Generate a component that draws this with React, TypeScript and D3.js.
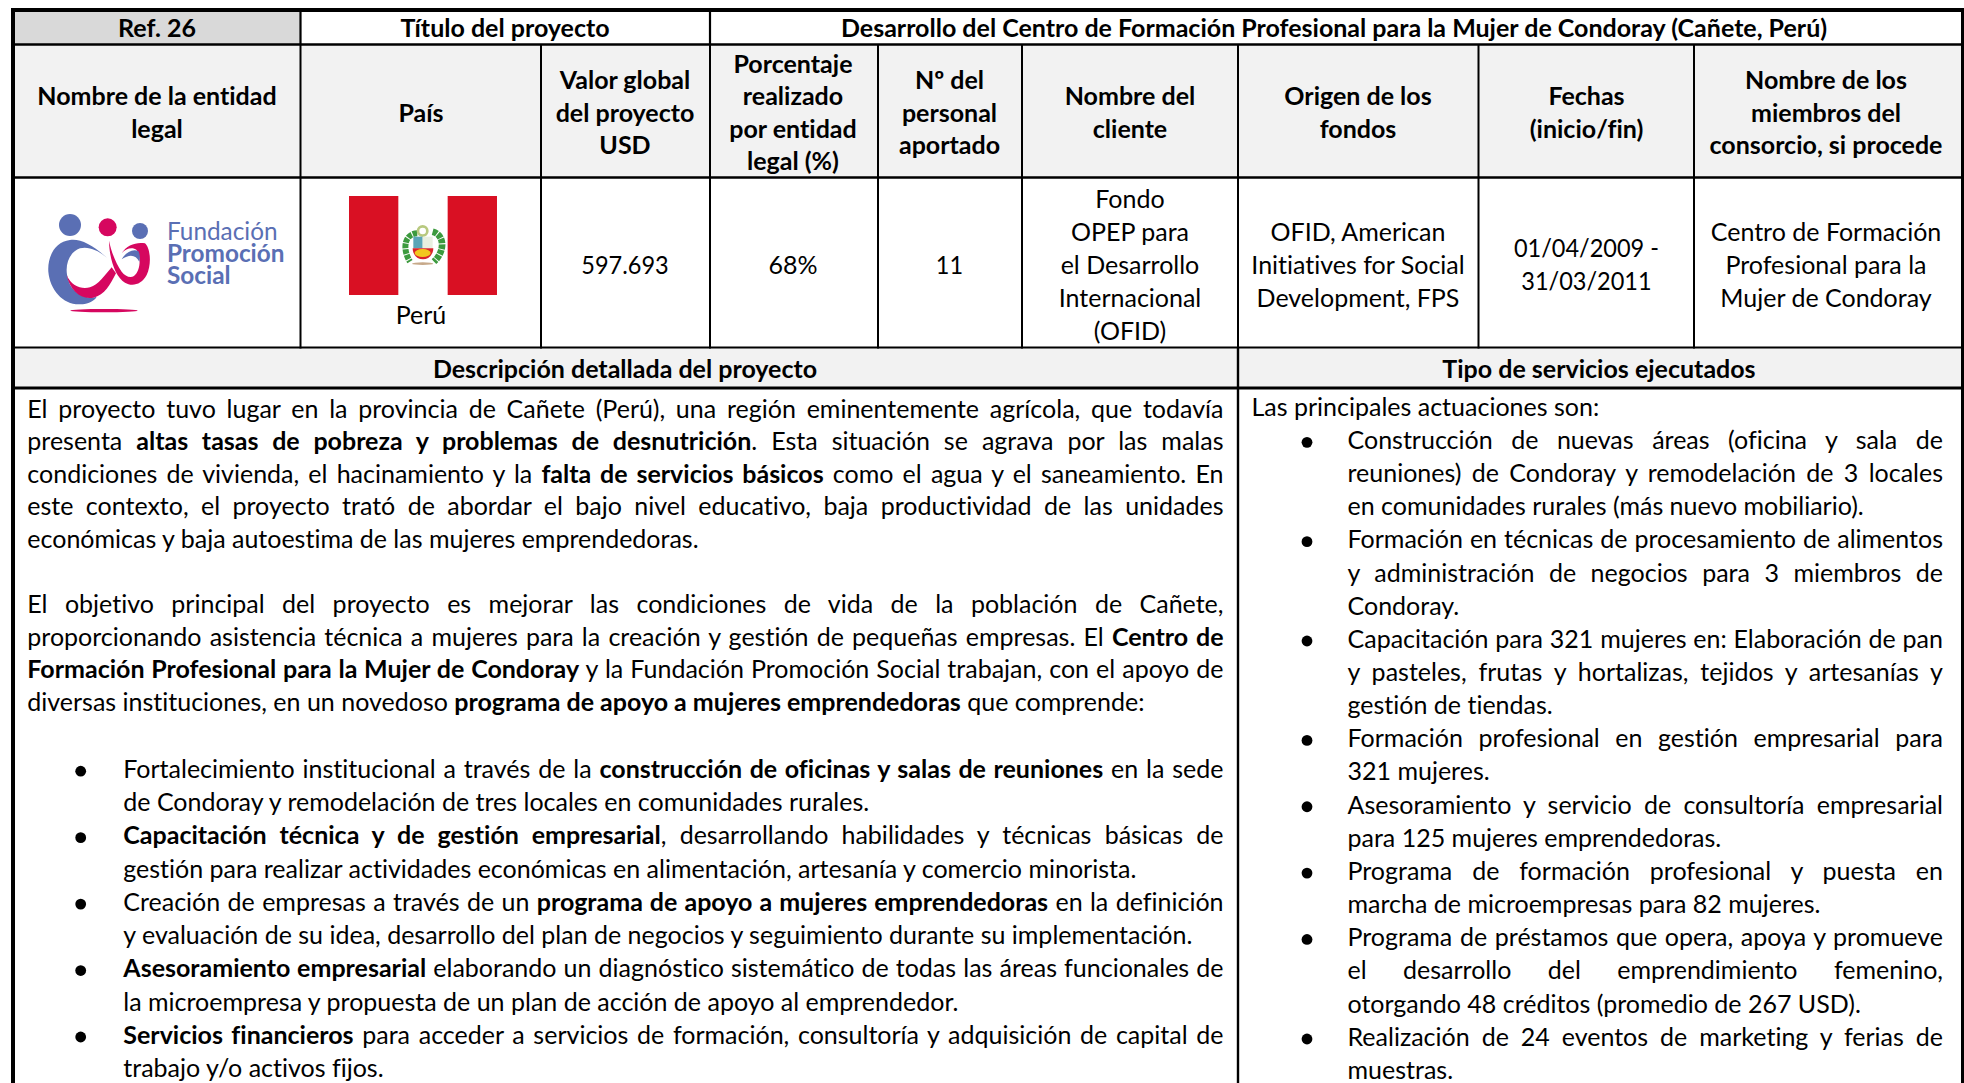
// App.tsx
import React, { useEffect, useRef } from 'react';
import * as d3 from 'd3';

// ---- content ----
const topRow = ['Ref. 26', 'Título del proyecto', 'Desarrollo del Centro de Formación Profesional para la Mujer de Condoray (Cañete, Perú)'];

const headerLabels = [
  ['Nombre de la entidad', 'legal'],
  ['País'],
  ['Valor global', 'del proyecto', 'USD'],
  ['Porcentaje', 'realizado', 'por entidad', 'legal (%)'],
  ['Nº del', 'personal', 'aportado'],
  ['Nombre del', 'cliente'],
  ['Origen de los', 'fondos'],
  ['Fechas', '(inicio/fin)'],
  ['Nombre de los', 'miembros del', 'consorcio, si procede'],
];

const valueLabels = [
  [],
  [],
  ['597.693'],
  ['68%'],
  ['11'],
  ['Fondo', 'OPEP para', 'el Desarrollo', 'Internacional', '(OFID)'],
  ['OFID, American', 'Initiatives for Social', 'Development, FPS'],
  ['01/04/2009 -', '31/03/2011'],
  ['Centro de Formación', 'Profesional para la', 'Mujer de Condoray'],
];

const country = 'Perú';
const logoLines = ['Fundación', 'Promoción', 'Social'];
const sectionTitles = ['Descripción detallada del proyecto', 'Tipo de servicios ejecutados'];

// **...** marks bold runs. Last line of every block is not justified.
const leftBlocks = [
  [
    'El proyecto tuvo lugar en la provincia de Cañete (Perú), una región eminentemente agrícola, que todavía',
    'presenta **altas tasas de pobreza y problemas de desnutrición**. Esta situación se agrava por las malas',
    'condiciones de vivienda, el hacinamiento y la **falta de servicios básicos** como el agua y el saneamiento. En',
    'este contexto, el proyecto trató de abordar el bajo nivel educativo, baja productividad de las unidades',
    'económicas y baja autoestima de las mujeres emprendedoras.',
  ],
  [],
  [
    'El objetivo principal del proyecto es mejorar las condiciones de vida de la población de Cañete,',
    'proporcionando asistencia técnica a mujeres para la creación y gestión de pequeñas empresas. El **Centro de**',
    '**Formación Profesional para la Mujer de Condoray** y la Fundación Promoción Social trabajan, con el apoyo de',
    'diversas instituciones, en un novedoso **programa de apoyo a mujeres emprendedoras** que comprende:',
  ],
  [],
];

const leftBullets = [
  [
    'Fortalecimiento institucional a través de la **construcción de oficinas y salas de reuniones** en la sede',
    'de Condoray y remodelación de tres locales en comunidades rurales.',
  ],
  [
    '**Capacitación técnica y de gestión empresarial**, desarrollando habilidades y técnicas básicas de',
    'gestión para realizar actividades económicas en alimentación, artesanía y comercio minorista.',
  ],
  [
    'Creación de empresas a través de un **programa de apoyo a mujeres emprendedoras** en la definición',
    'y evaluación de su idea, desarrollo del plan de negocios y seguimiento durante su implementación.',
  ],
  [
    '**Asesoramiento empresarial** elaborando un diagnóstico sistemático de todas las áreas funcionales de',
    'la microempresa y propuesta de un plan de acción de apoyo al emprendedor.',
  ],
  [
    '**Servicios financieros** para acceder a servicios de formación, consultoría y adquisición de capital de',
    'trabajo y/o activos fijos.',
  ],
];

const rightIntro = 'Las principales actuaciones son:';

const rightBullets = [
  [
    'Construcción de nuevas áreas (oficina y sala de',
    'reuniones) de Condoray y remodelación de 3 locales',
    'en comunidades rurales (más nuevo mobiliario).',
  ],
  [
    'Formación en técnicas de procesamiento de alimentos',
    'y administración de negocios para 3 miembros de',
    'Condoray.',
  ],
  [
    'Capacitación para 321 mujeres en: Elaboración de pan',
    'y pasteles, frutas y hortalizas, tejidos y artesanías y',
    'gestión de tiendas.',
  ],
  ['Formación profesional en gestión empresarial para', '321 mujeres.'],
  ['Asesoramiento y servicio de consultoría empresarial', 'para 125 mujeres emprendedoras.'],
  ['Programa de formación profesional y puesta en', 'marcha de microempresas para 82 mujeres.'],
  [
    'Programa de préstamos que opera, apoya y promueve',
    'el desarrollo del emprendimiento femenino,',
    'otorgando 48 créditos (promedio de 267 USD).',
  ],
  ['Realización de 24 eventos de marketing y ferias de', 'muestras.'],
];

// ---- layout ----
const FONT = 'Lato, Carlito, Calibri, sans-serif';
const FONT_SIZE = 25;
const colEdges = [13, 300.5, 541, 710, 878, 1022, 1238, 1478.5, 1694, 1962];
const colCentre = [157, 421, 625, 793, 949.5, 1130, 1358, 1586.5, 1826];
const LINE = 33;

// line index -> baseline, the body pitch is not quite even in the source
const leftY = d3.scaleLinear().domain([0, 4, 6, 9, 11, 20]).range([417.8, 548, 613, 711, 778, 1077]);
const rightY = d3.scaleLinear().domain([0, 9, 20]).range([416, 714, 1079]);

const App = () => {
  const ref = useRef<SVGSVGElement>(null);

  useEffect(() => {
    const svg = d3.select(ref.current);
    svg.selectAll('*').remove();

    // cell fills
    const fill = (x0: number, y0: number, x1: number, y1: number, c: string) =>
      svg.append('rect').attr('x', x0).attr('y', y0).attr('width', x1 - x0).attr('height', y1 - y0).attr('fill', c);
    fill(13, 11, colEdges[1], 44, '#d9d9d9');
    fill(13, 45, 1962, 177, '#f2f2f2');
    fill(13, 348, 1962, 387, '#f2f2f2');

    // grid lines
    const rule = (x0: number, y0: number, x1: number, y1: number, w: number) =>
      svg.append('line').attr('x1', x0).attr('y1', y0).attr('x2', x1).attr('y2', y1)
        .attr('stroke', '#000').attr('stroke-width', w);
    rule(11, 10, 1964, 10, 4);
    rule(13, 44.5, 1962, 44.5, 2.5);
    rule(13, 177.5, 1962, 177.5, 2.5);
    rule(13, 347.5, 1962, 347.5, 2);
    rule(13, 388, 1962, 388, 3);
    rule(13, 8, 13, 1083, 4);
    rule(1962.5, 8, 1962.5, 1083, 3);
    [1, 3].forEach(i => rule(colEdges[i], 10, colEdges[i], 45, 2.2));
    colEdges.slice(1, -1).forEach(x => rule(x, 45, x, 348.5, 2));
    rule(colEdges[6], 348, colEdges[6], 1083, 2.4);

    const centred = (label: string, cx: number, y: number, bold = false) => {
      const t = svg.append('text').attr('x', cx).attr('y', y).attr('text-anchor', 'middle')
        .attr('font-family', FONT).attr('font-size', FONT_SIZE)
        .attr('font-weight', bold ? 700 : 400).attr('fill', '#000').text(label);
      // Lato's digits run wider than the source font
      if (/^[\d./ -]+$/.test(label)) {
        const w = (t.node() as SVGTextElement).getComputedTextLength();
        t.attr('textLength', w * 0.94).attr('lengthAdjust', 'spacingAndGlyphs');
      }
      return t;
    };

    // top row
    centred(topRow[0], 157, 37, true);
    centred(topRow[1], 505, 37, true);
    centred(topRow[2], 1334, 37, true);

    // header + value rows, vertically centred in their rows
    const headerMid = 121.5;
    headerLabels.forEach((lines, i) => {
      lines.forEach((l, k) => centred(l, colCentre[i], headerMid + (k - (lines.length - 1) / 2) * 32.6, true));
    });
    const valueMid = 273.5;
    valueLabels.forEach((lines, i) => {
      lines.forEach((l, k) => centred(l, colCentre[i], valueMid + (k - (lines.length - 1) / 2) * LINE, false));
    });
    centred(country, colCentre[1], 324);
    sectionTitles.forEach((t, i) => centred(t, i === 0 ? 625 : 1599, 377.7, true));

    // body text: bold runs as tspans, justified with word-spacing
    const bodyLine = (src: string, x: number, y: number, right: number | null) => {
      const t = svg.append('text').attr('x', x).attr('y', y)
        .attr('font-family', FONT).attr('font-size', FONT_SIZE).attr('fill', '#000')
        .style('white-space', 'pre');
      src.split('**').forEach((run, i) => {
        if (run) t.append('tspan').attr('font-weight', i % 2 ? 700 : 400).text(run);
      });
      if (right !== null) {
        const gaps = src.split(' ').length - 1;
        const natural = (t.node() as SVGTextElement).getComputedTextLength();
        t.attr('word-spacing', (right - x - natural) / gaps);
      }
    };
    const bullet = (cx: number, baseline: number) =>
      svg.append('circle').attr('cx', cx).attr('cy', baseline - 6.8).attr('r', 5.4).attr('fill', '#000');

    // left column
    let li = 0;
    leftBlocks.forEach(block => {
      if (!block.length) { li += 1; return; }
      block.forEach((l, k) => {
        bodyLine(l, 27.3, leftY(li), k < block.length - 1 ? 1223.5 : null);
        li += 1;
      });
    });
    leftBullets.forEach(item => {
      bullet(80.7, leftY(li));
      item.forEach((l, k) => {
        bodyLine(l, 123.3, leftY(li), k < item.length - 1 ? 1223.5 : null);
        li += 1;
      });
    });

    // right column
    let ri = 0;
    bodyLine(rightIntro, 1251.5, rightY(ri), null);
    ri += 1;
    rightBullets.forEach(item => {
      bullet(1307, rightY(ri));
      item.forEach((l, k) => {
        bodyLine(l, 1347.5, rightY(ri), k < item.length - 1 ? 1943 : null);
        ri += 1;
      });
    });

    // logo, traced at 3x from its top-left corner
    const logo = svg.append('g').attr('transform', 'translate(30,190) scale(0.3333)');
    const BLUE = '#5a6fb4';
    const PINK = '#d6075f';
    logo.append('circle').attr('cx', 120).attr('cy', 105).attr('r', 33).attr('fill', BLUE);
    logo.append('circle').attr('cx', 233).attr('cy', 112).attr('r', 27).attr('fill', PINK);
    logo.append('circle').attr('cx', 330).attr('cy', 123).attr('r', 24).attr('fill', BLUE);
    logo.append('path').attr('fill', BLUE)
      .attr('d', 'M232,205 C190,165 150,145 120,150 C75,155 52,200 55,245 C60,300 100,345 150,343 C175,342 195,332 200,320 C170,330 125,310 115,270 C100,225 120,185 150,175 C180,168 210,185 232,205 Z');
    logo.append('path').attr('fill', PINK)
      .attr('d', 'M110,255 C125,290 155,298 180,292 C205,285 225,255 245,232 L258,250 C240,285 225,315 190,323 C150,330 120,300 110,255 Z');
    logo.append('path').attr('fill', PINK)
      .attr('d', 'M237,152 C245,190 258,220 275,245 C285,258 300,265 312,258 C330,245 335,205 320,180 C310,172 290,172 275,190 C290,165 320,155 345,160 C362,175 365,225 350,255 C335,285 305,290 285,278 C255,260 238,205 237,152 Z');
    logo.append('path').attr('fill', BLUE)
      .attr('d', 'M275,208 C285,190 305,175 325,183 C331,195 330,205 328,215 C318,195 300,190 275,208 Z');
    logo.append('ellipse').attr('cx', 222).attr('cy', 362).attr('rx', 101).attr('ry', 5).attr('fill', PINK);
    logoLines.forEach((l, i) => {
      logo.append('text').attr('x', 411).attr('y', [150, 215, 282][i])
        .attr('font-family', 'Lato, sans-serif').attr('font-size', 73)
        .attr('font-weight', i ? 700 : 400).attr('fill', BLUE).text(l);
    });

    // flag with a rough coat of arms, also 3x
    const flag = svg.append('g').attr('transform', 'translate(330,180) scale(0.3333)');
    const RED = '#d91023';
    flag.append('rect').attr('x', 57).attr('y', 48).attr('width', 148).attr('height', 297).attr('fill', RED);
    flag.append('rect').attr('x', 353).attr('y', 48).attr('width', 148).attr('height', 297).attr('fill', RED);
    flag.append('path').attr('d', 'M262,160 C225,160 215,205 240,245').attr('fill', 'none')
      .attr('stroke', '#3c9a3e').attr('stroke-width', 18).attr('stroke-dasharray', '14 3');
    flag.append('path').attr('d', 'M308,155 C345,165 345,215 312,245').attr('fill', 'none')
      .attr('stroke', '#3c9a3e').attr('stroke-width', 20).attr('stroke-dasharray', '14 3');
    flag.append('circle').attr('cx', 278).attr('cy', 153).attr('r', 14).attr('fill', 'none')
      .attr('stroke', '#b8c97f').attr('stroke-width', 8);
    flag.append('rect').attr('x', 250).attr('y', 170).attr('width', 28).attr('height', 35).attr('fill', '#5aa5b8');
    flag.append('rect').attr('x', 278).attr('y', 170).attr('width', 30).attr('height', 35).attr('fill', '#e8efe0');
    flag.append('path').attr('d', 'M248,205 L310,205 C310,225 295,238 279,238 C262,238 248,225 248,205 Z').attr('fill', '#d9232b');
    flag.append('ellipse').attr('cx', 278).attr('cy', 219).attr('rx', 24).attr('ry', 12).attr('fill', '#f2c81e');
    flag.append('ellipse').attr('cx', 278).attr('cy', 251).attr('rx', 32).attr('ry', 4).attr('fill', '#c7a98a');
  }, []);

  return (
    <svg
      ref={ref}
      width={1964}
      height={1083}
      style={{ position: 'absolute', left: 0, top: 0, background: '#fff', fontVariantLigatures: 'none' }}
    />
  );
};

export default App;
